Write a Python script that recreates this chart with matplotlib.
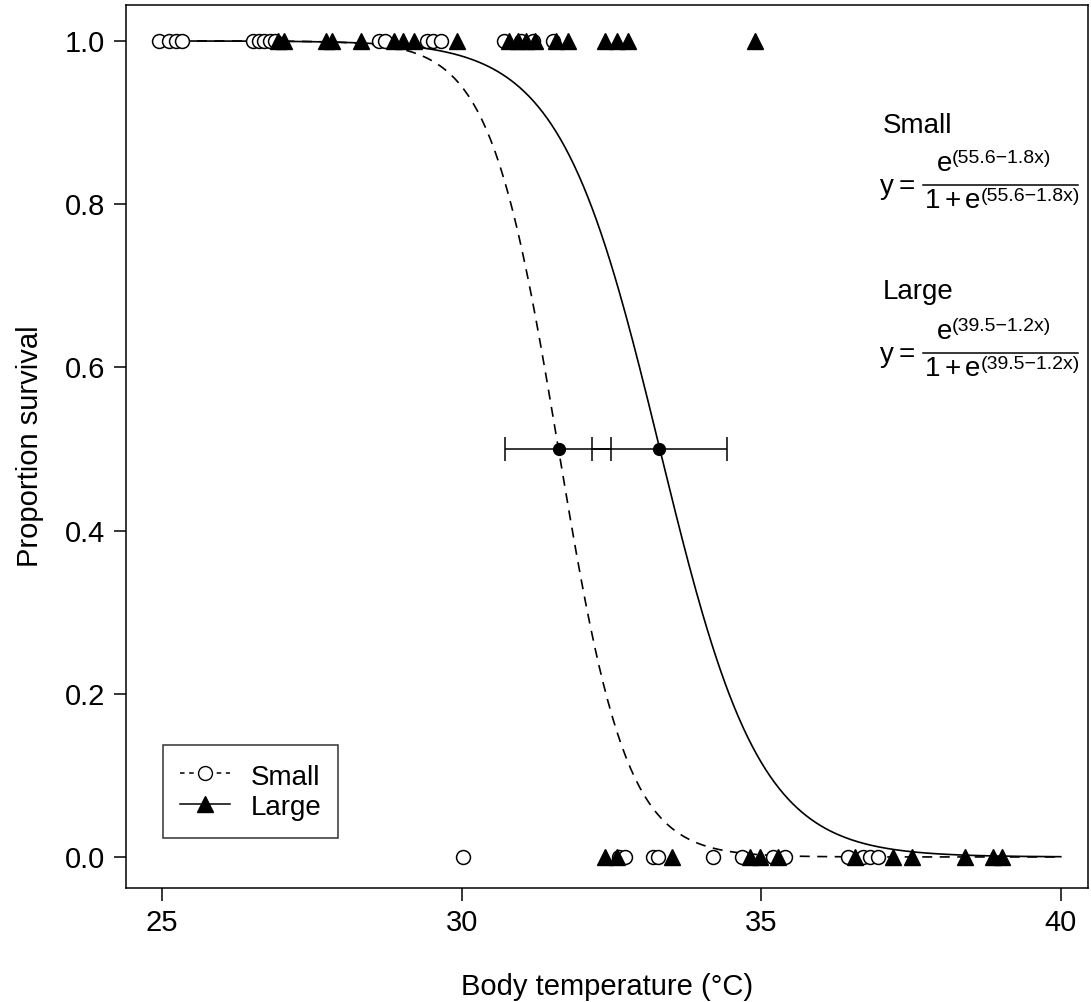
import numpy as np
import matplotlib
matplotlib.use("Agg")
import matplotlib.pyplot as plt
from matplotlib.lines import Line2D

plt.rcParams['font.family'] = ['Liberation Sans', 'DejaVu Sans']

# observed survival (1) / death (0) by body temperature
small_alive = [24.95, 25.12, 25.23, 25.33, 26.52, 26.62, 26.7, 26.8, 26.88,
               28.62, 28.72, 29.43, 29.53, 29.65, 30.7, 31.0, 31.2, 31.52]
small_dead = [30.02, 32.62, 32.73, 33.2, 33.28, 34.2, 34.68, 35.2, 35.4,
              36.45, 36.7, 36.82, 36.95]
large_alive = [26.93, 27.03, 27.73, 27.83, 28.32, 28.87, 29.03, 29.2, 29.92,
               30.8, 30.95, 31.07, 31.22, 31.58, 31.78, 32.4, 32.6, 32.78, 34.9]
large_dead = [32.4, 32.6, 33.52, 34.82, 34.98, 35.28, 36.57, 37.2, 37.52,
              38.4, 38.87, 39.02]

# logistic curves as drawn: y = exp(a - b x) / (1 + exp(a - b x))
small_a, small_b = 55.33, 1.75
large_a, large_b = 39.97, 1.2

# LT50 with confidence limits
lt50 = [31.62, 33.3]
lt50_lo = [30.73, 32.17]
lt50_hi = [32.5, 34.43]

# equation labels
groups = ['Small', 'Large']
exponents = ['(55.6\u22121.8x)', '(39.5\u22121.2x)']

W, H = 1091, 1002
fig = plt.figure(figsize=(W / 100, H / 100), dpi=100)
ax = fig.add_axes([0.1155, 0.1138, 0.8815, 0.8812])

x = np.linspace(25, 40, 400)
ys = 1 / (1 + np.exp(-(small_a - small_b * x)))
yl = 1 / (1 + np.exp(-(large_a - large_b * x)))
ax.plot(x, ys, color='black', lw=1.2, ls=(0, (6, 4.5)))
ax.plot(x, yl, color='black', lw=1.2)

ax.plot(small_alive, np.ones(len(small_alive)), 'o', mfc='white', mec='black',
        ms=10, mew=1.1, ls='none')
ax.plot(small_dead, np.zeros(len(small_dead)), 'o', mfc='white', mec='black',
        ms=10, mew=1.1, ls='none')
ax.plot(large_alive, np.ones(len(large_alive)), '^', color='black', ms=12, ls='none')
ax.plot(large_dead, np.zeros(len(large_dead)), '^', color='black', ms=12, ls='none')

for m, lo, hi in zip(lt50, lt50_lo, lt50_hi):
    ax.errorbar(m, 0.5, xerr=[[m - lo], [hi - m]], fmt='o', color='black',
                ms=8.5, capsize=8.6, elinewidth=1.1, capthick=1.1)

# legend
h1, = ax.plot([], [], color='black', ls=(0, (3, 3)), lw=1.1, marker='o',
              mfc='white', mec='black', ms=10)
h2, = ax.plot([], [], color='black', lw=1.1, marker='^', ms=12)
leg = ax.legend([h1, h2], groups, loc='lower left',
                bbox_to_anchor=(0.0385, 0.0566), borderaxespad=0,
                fontsize=20, frameon=True, fancybox=False, handlelength=1.8,
                handleheight=1.15, borderpad=0.6, handletextpad=0.75,
                labelspacing=0.05)
leg.get_frame().set_edgecolor('black')
leg.get_frame().set_linewidth(1.1)


# equations, placed in pixel positions of the figure
def ftext(px, py, s, size):
    fig.text(px / W, 1 - py / H, s, fontsize=size, ha='left', va='baseline')


for i, (g, e) in enumerate(zip(groups, exponents)):
    dy = 168 * i
    ftext(883, 133 + dy - (2 if i else 0), g, 20)
    ftext(880, 194 + dy, 'y', 20)
    ftext(899, 194 + dy, '=', 20)
    fig.add_artist(Line2D([923 / W, 1078 / W], [1 - (185 + dy) / H] * 2,
                          color='black', lw=1.1))
    ftext(937, 171 + dy, 'e', 20)
    ftext(952, 163 + dy, e, 14)
    ftext(925, 208 + dy, '1', 20)
    ftext(945, 208 + dy, '+', 20)
    ftext(965, 208 + dy, 'e', 20)
    ftext(981, 201 + dy, e, 14)

ax.set_xlim(24.4, 40.45)
ax.set_ylim(-0.038, 1.044)
ax.set_xticks([25, 30, 35, 40])
ax.set_yticks([0.0, 0.2, 0.4, 0.6, 0.8, 1.0])
ax.set_yticklabels(['0.0', '0.2', '0.4', '0.6', '0.8', '1.0'])
ax.tick_params(direction='out', length=9, width=1.1, labelsize=21, pad=6)
ax.set_xlabel('Body temperature (°C)', fontsize=21, labelpad=26)
ax.set_ylabel('Proportion survival', fontsize=21, labelpad=15)
for s in ax.spines.values():
    s.set_linewidth(1.1)

fig.savefig('out.png', dpi=100)
